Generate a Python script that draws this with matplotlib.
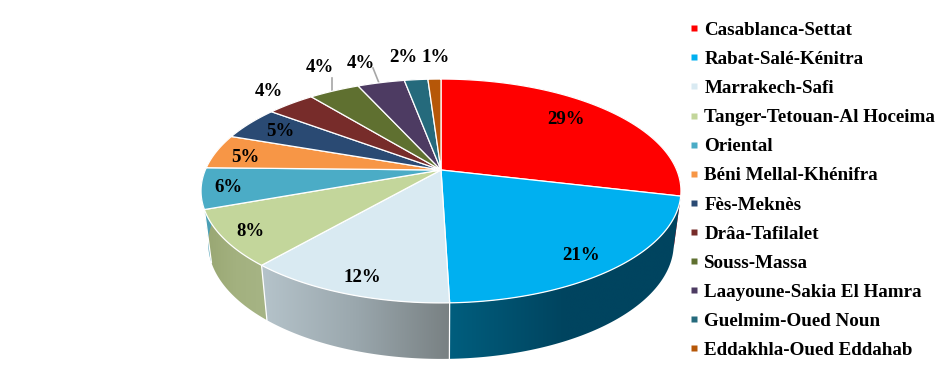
#!/usr/bin/env python3

import numpy as np
import matplotlib.pyplot as plt
from matplotlib.colors import LinearSegmentedColormap
from matplotlib.lines import Line2D
from matplotlib.patches import Polygon

regions = [
    "Casablanca-Settat",
    "Rabat-Salé-Kénitra",
    "Marrakech-Safi",
    "Tanger-Tetouan-Al Hoceima",
    "Oriental",
    "Béni Mellal-Khénifra",
    "Fès-Meknès",
    "Drâa-Tafilalet",
    "Souss-Massa",
    "Laayoune-Sakia El Hamra",
    "Guelmim-Oued Noun",
    "Eddakhla-Oued Eddahab",
]
shares = [28.7, 20.8, 11.8, 8.1, 5.9, 5.0, 4.9, 3.9, 4.1, 3.8, 1.9, 1.05]
share_labels = ["29%", "21%", "12%", "8%", "6%", "5%", "5%", "4%", "4%", "4%", "2%", "1%"]

colors = [
    "#ff0000", "#00b0f0", "#d9eaf2", "#c3d69b", "#4bacc6", "#f79646",
    "#2a4a73", "#772c2a", "#5f7030", "#4d3b62", "#256a7c", "#b65708",
]
# wall shading, left to right
wall_colors = {
    1: ("#005e7e", "#00445f", "#00445f"),
    2: ("#b5c3ca", "#9aa7ad", "#788082"),
    3: ("#98a672", "#a3b17f", "#a6b485"),
    4: ("#4a9fb5", "#4a9fb5", "#4a9fb5"),
}

# pie geometry in pixels
cx, cy = 441, 170
rx, ry = 235.7, 108
persp = 0.1875

label_xy = [
    (566, 120), (581, 256), (362, 278), (250, 231), (228, 187), (245, 157),
    (280, 132), (269, 92), (320, 68), (361, 63), (403, 57), (436, 58),
]


def top_rim(t):
    w = 1 + persp * np.cos(t)
    return cx + rx * np.sin(t) / w, cy - ry * np.cos(t) / w


def bottom_rim(t):
    x, y = top_rim(t)
    return cx + (x - cx) * 0.97, cy + (y - cy) * 1.03 + 52


fig = plt.figure(figsize=(9.45, 3.65), dpi=100)
ax = fig.add_axes([0, 0, 1, 1])
ax.set_xlim(0, 945)
ax.set_ylim(365, 0)
ax.axis("off")

edges = np.cumsum([0] + shares) / sum(shares) * 2 * np.pi
font = {"family": "Liberation Serif", "weight": "bold", "color": "black"}

# side walls first, top faces go over them
for i, color in enumerate(colors):
    t = np.linspace(edges[i], edges[i + 1], 80)
    x0, y0 = top_rim(t)
    x1, y1 = bottom_rim(t)
    wall = np.r_[np.c_[x0, y0], np.c_[x1, y1][::-1]]
    patch = Polygon(wall, closed=True, fc="none", ec="none")
    ax.add_patch(patch)
    stops = wall_colors.get(i, (color, color, color))
    cmap = LinearSegmentedColormap.from_list(f"wall{i}", stops)
    x_min, x_max = wall[:, 0].min(), wall[:, 0].max()
    y_min, y_max = wall[:, 1].min(), wall[:, 1].max()
    im = ax.imshow(
        np.linspace(0, 1, 256)[None, :],
        cmap=cmap,
        extent=(x_min, x_max, y_max, y_min),
        aspect="auto",
        interpolation="bilinear",
        zorder=1,
    )
    im.set_clip_path(patch)
    if i in (1, 2, 3):
        ax.plot([x0[-1], x1[-1]], [y0[-1], y1[-1]], color="white", lw=0.9, zorder=2)

for i, color in enumerate(colors):
    t = np.linspace(edges[i], edges[i + 1], 80)
    x, y = top_rim(t)
    face = np.r_[[[cx, cy]], np.c_[x, y]]
    ax.add_patch(Polygon(face, closed=True, fc=color, ec="white", lw=0.9, zorder=3))

# leader lines for the two labels pushed away from the rim
ax.plot([332, 332], [78, 91], color="#a6a6a6", lw=1.2, zorder=2)
ax.plot([373, 379], [68, 83], color="#a6a6a6", lw=1.2, zorder=2)

for label, (x, y) in zip(share_labels, label_xy):
    ax.text(x, y, label, ha="center", va="center", fontsize=13.6, zorder=5, **font)

handles = [
    Line2D([], [], ls="none", marker="s", ms=3.8, mfc=c, mec="none") for c in colors
]
ax.legend(
    handles,
    regions,
    loc="upper left",
    bbox_to_anchor=(689.5 / 945, 1 - 21.5 / 365),
    frameon=False,
    prop={"family": "Liberation Serif", "weight": "bold", "size": 13.7},
    labelspacing=0.62,
    handlelength=0.5,
    handletextpad=0.28,
    borderpad=0,
    borderaxespad=0,
)

plt.savefig("out.png", dpi=100)
